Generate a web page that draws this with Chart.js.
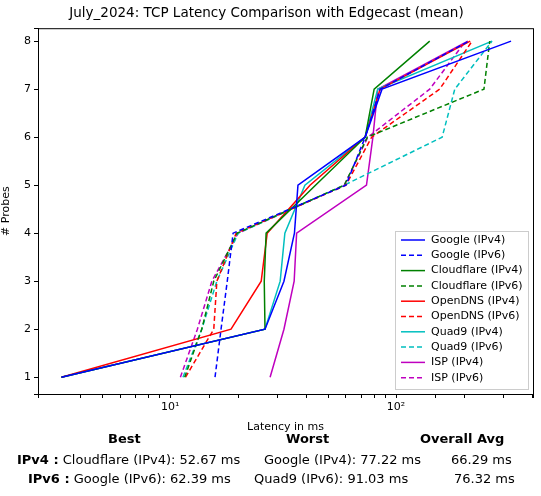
<html>
<head>
<script src="https://cdn.jsdelivr.net/npm/chart.js@4/dist/chart.umd.min.js"></script>
<style>
  body { margin: 0; background: #fff; font-family: "DejaVu Sans", sans-serif; }
  #wrap { position: relative; width: 541px; height: 496px; }
  .t { position: absolute; font-size: 13px; white-space: nowrap; color: #000; }
  .b { font-weight: bold; }
</style>
</head>
<body>
<div id="wrap">
  <canvas id="canvas" width="541" height="496"></canvas>
  <div class="t b" style="left:108px;top:431px">Best</div>
  <div class="t b" style="left:286px;top:431px">Worst</div>
  <div class="t b" style="left:420px;top:431px">Overall Avg</div>
  <div class="t" style="left:17px;top:452px"><b>IPv4 :</b> Cloudflare (IPv4): 52.67 ms</div>
  <div class="t" style="left:264px;top:452px">Google (IPv4): 77.22 ms</div>
  <div class="t" style="left:451px;top:452px">66.29 ms</div>
  <div class="t" style="left:28px;top:471px"><b>IPv6 :</b> Google (IPv6): 62.39 ms</div>
  <div class="t" style="left:254px;top:471px">Quad9 (IPv6): 91.03 ms</div>
  <div class="t" style="left:454px;top:471px">76.32 ms</div>
</div>
<script>
var probes = [1, 2, 3, 4, 5, 6, 7, 8];
var labels = ['Google (IPv4)', 'Google (IPv6)', 'Cloudflare (IPv4)', 'Cloudflare (IPv6)',
              'OpenDNS (IPv4)', 'OpenDNS (IPv6)', 'Quad9 (IPv4)', 'Quad9 (IPv6)', 'ISP (IPv4)', 'ISP (IPv6)'];
var colors = ['#0000ff', '#0000ff', '#008000', '#008000', '#ff0000', '#ff0000', '#00bfbf', '#00bfbf', '#bf00bf', '#bf00bf'];
var googleV4 = [3.3, 26.3, 31.9, 35.5, 36.8, 73, 86.7, 323];
var googleV6 = [15.8, 16.8, 17.9, 19.0, 60, 73, 85, 210];
var cloudflareV4 = [3.3, 26.3, 26.1, 26.6, 44, 73, 80, 141];
var cloudflareV6 = [11.6, 13.8, 15.6, 19.8, 59, 74.6, 245, 260];
var openDnsV4 = [3.3, 18.6, 25.3, 26.9, 41.6, 73, 85, 213];
var openDnsV6 = [11.7, 15.6, 16.1, 19.6, 60, 78, 156, 217];
var quad9V4 = [3.3, 26.3, 30.7, 32.2, 39.5, 73, 83, 266];
var quad9V6 = [11.4, 13.8, 16.1, 20, 59, 160, 182, 266];
var ispV4 = [27.7, 31.9, 35.4, 36.3, 74, 79, 83, 208];
var ispV6 = [11.1, 13.2, 15.3, 20, 59, 75, 141, 203];
var series = [googleV4, googleV6, cloudflareV4, cloudflareV6, openDnsV4, openDnsV6, quad9V4, quad9V6, ispV4, ispV6];

var datasets = series.map(function (s, i) {
    return {
        label: labels[i],
        data: s.map(function (x, j) { return { x: x, y: probes[j] }; }),
        borderColor: colors[i],
        backgroundColor: colors[i],
        borderWidth: 1.5,
        borderDash: i % 2 ? [5, 3] : [],
        pointRadius: 0,
        showLine: true,
        tension: 0
    };
});

// frame and legend inside the plot, lower right, matplotlib style
var boxLegend = {
    id: 'boxLegend',
    afterDraw: function (chart) {
        var c = chart.ctx, a = chart.chartArea;
        c.save();
        c.strokeStyle = '#000';
        c.lineWidth = 1;
        c.strokeRect(a.left + 0.5, a.top + 0.5, a.right - a.left, a.bottom - a.top);
        var w = 133, h = 158, x0 = a.right - w - 5, y0 = a.bottom - h - 5;
        c.fillStyle = 'rgba(255,255,255,0.85)';
        c.strokeStyle = '#ccc';
        c.fillRect(x0, y0, w, h);
        c.strokeRect(x0 + 0.5, y0 + 0.5, w, h);
        c.font = '11px "DejaVu Sans"';
        c.textBaseline = 'middle';
        chart.data.datasets.forEach(function (d, i) {
            var y = y0 + 9 + i * 15.3;
            c.strokeStyle = d.borderColor;
            c.lineWidth = 1.5;
            c.setLineDash(d.borderDash);
            c.beginPath(); c.moveTo(x0 + 6, y); c.lineTo(x0 + 30, y); c.stroke();
            c.setLineDash([]);
            c.fillStyle = '#000';
            c.fillText(d.label, x0 + 36, y);
        });
        c.restore();
    }
};

var ctx = document.getElementById('canvas').getContext('2d');
var chart = new Chart(ctx, {
    type: 'scatter',
    data: { datasets: datasets },
    plugins: [boxLegend],
    options: {
        responsive: false,
        animation: false,
        layout: { padding: { top: 0, right: 8, bottom: 62, left: 0 } },
        plugins: {
            legend: { display: false },
            tooltip: { enabled: false },
            title: {
                display: true,
                text: 'July_2024: TCP Latency Comparison with Edgecast (mean)',
                color: '#000',
                font: { family: 'DejaVu Sans', size: 13.5, weight: 'normal' },
                padding: { top: 5, bottom: 7 }
            }
        },
        scales: {
            x: {
                type: 'logarithmic',
                min: 2.6, max: 404,
                border: { color: '#000' },
                grid: { drawOnChartArea: false, color: '#000', tickLength: 4 },
                title: { display: true, text: 'Latency in ms', color: '#000', padding: 0,
                         font: { family: 'DejaVu Sans', size: 11 } },
                ticks: {
                    color: '#000', font: { family: 'DejaVu Sans', size: 11 },
                    autoSkip: false, maxRotation: 0,
                    callback: function (v) {
                        if (Math.abs(v - 10) < 1e-6) return '10\u00B9';
                        if (Math.abs(v - 100) < 1e-6) return '10\u00B2';
                        return '';
                    }
                },
                afterFit: function (s) { s.height = 40; }
            },
            y: {
                min: 0.65, max: 8.27,
                border: { color: '#000' },
                grid: { drawOnChartArea: false, color: '#000', tickLength: 4 },
                title: { display: true, text: '# Probes', color: '#000', padding: 0,
                         font: { family: 'DejaVu Sans', size: 11 } },
                ticks: {
                    color: '#000', font: { family: 'DejaVu Sans', size: 11 },
                    stepSize: 1,
                    callback: function (v) { return Number.isInteger(v) ? v : ''; }
                },
                afterFit: function (s) { s.width = 38; }
            }
        }
    }
});
</script>
</body>
</html>
